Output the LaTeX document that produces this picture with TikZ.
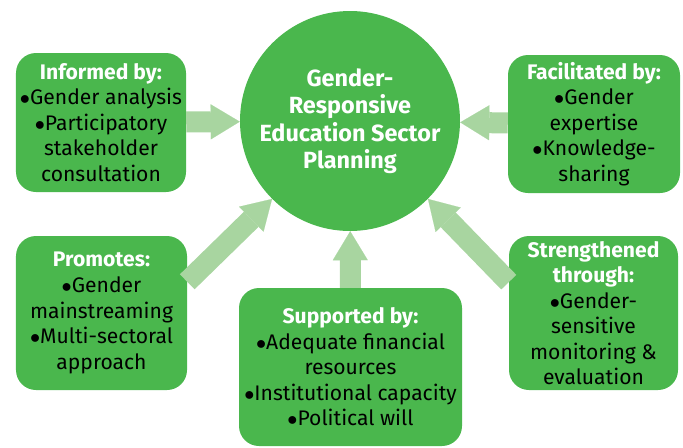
\documentclass[tikz,border=0pt]{standalone}
\usepackage{fontspec}
\setmainfont{Fira Sans}
\usetikzlibrary{arrows.meta}
\definecolor{leaf}{RGB}{74,183,77}
\definecolor{mint}{RGB}{168,213,160}
\newcommand{\cardhead}[1]{\textcolor{white}{\textbf{#1}}}
\newcommand{\cardbullet}{$\bullet$}

\begin{document}
\begin{tikzpicture}[
		card/.style={fill=leaf, rounded corners=0.6cm, align=center, inner sep=0pt, font=\fontsize{18}{21.8}\selectfont},
		feed/.style={draw=mint, line width=0.63cm, -{Triangle[length=0.87cm,width=1.05cm,line width=0.1pt]}}]
		\useasboundingbox (0,0) rectangle (20.49,-13.41);
		\node[circle, fill=leaf, minimum size=6.6cm, text=white, align=center, font=\bfseries\fontsize{20}{23.5}\selectfont](hub) at (10.5,-3.63) {Gender-\\Responsive\\Education Sector\\Planning};
		\node[card, minimum width=5.1cm, minimum height=4.17cm](inf) at (3.03,-3.675) {\cardhead{Informed by:}\\\cardbullet Gender analysis\\\cardbullet Participatory\\stakeholder\\consultation};
		\node[card, minimum width=5.16cm, minimum height=4.14cm](fac) at (17.82,-3.72) {\cardhead{Facilitated by:}\\\cardbullet Gender\\expertise\\\cardbullet Knowledge-\\sharing};
		\node[card, minimum width=5.13cm, minimum height=4.62cm](pro) at (3.045,-9.39) {\cardhead{Promotes:}\\\cardbullet Gender\\mainstreaming\\\cardbullet Multi-sectoral\\approach};
		\node[card, minimum width=5.07cm, minimum height=4.62cm](str) at (17.805,-9.39) {\cardhead{Strengthened}\\\cardhead{through:}\\\cardbullet Gender-\\sensitive\\monitoring \&\\evaluation};
		\node[card, minimum width=6.69cm, minimum height=4.74cm](sup) at (10.515,-11.01) {\cardhead{Supported by:}\\\cardbullet Adequate financial\\resources\\\cardbullet Institutional capacity\\\cardbullet Political will};
		\draw[feed] (inf) -- (hub);
		\draw[feed] (fac) -- (hub);
		\draw[feed] (sup) -- (hub);
		\draw[feed] (pro.20) -- (hub.225);
		\draw[feed] (str.160) -- (hub.315);
	\end{tikzpicture}
\end{document}
